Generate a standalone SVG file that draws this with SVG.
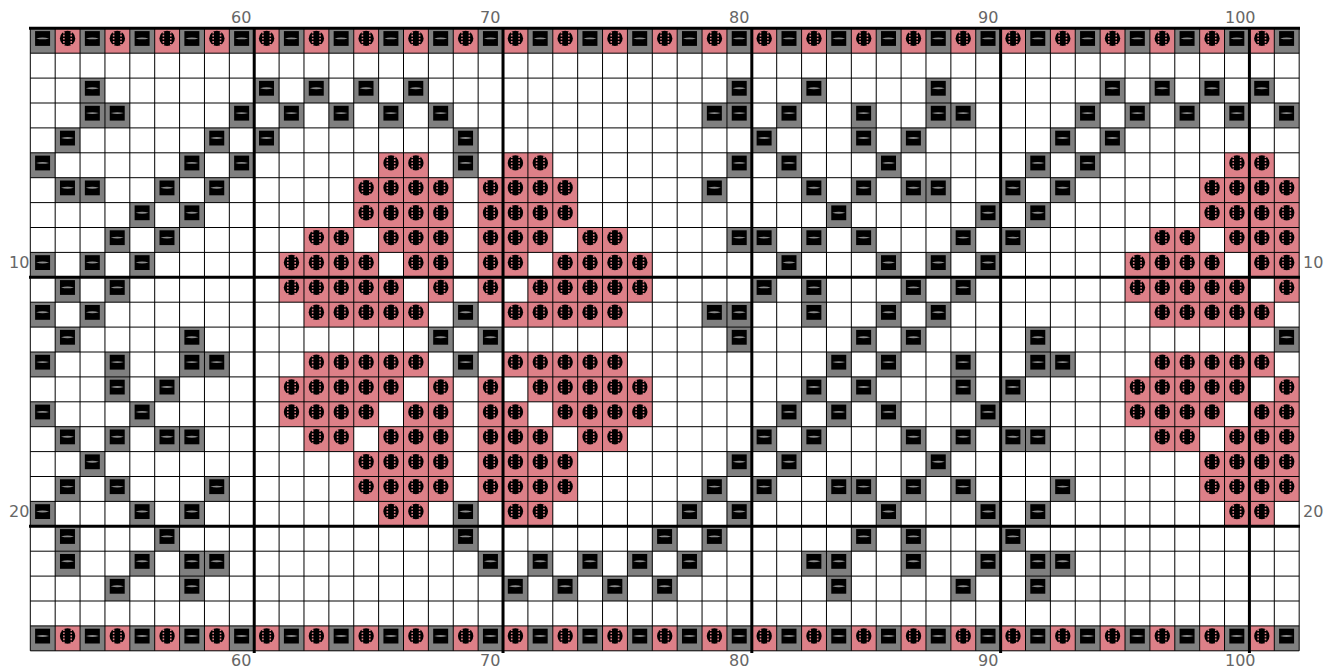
<svg xmlns="http://www.w3.org/2000/svg" width="1324" height="670" viewBox="0 0 1324 670">
<style>
text{font-family:"DejaVu Sans",sans-serif;font-size:16px;fill:#666}
.thin{fill:none;stroke:#000;stroke-width:1}
.thick{fill:none;stroke:#000;stroke-width:3}
</style>
<defs>
<g id="d"><rect width="24.9" height="24.9" fill="#808080"/><rect x="4.8" y="2.8" width="15" height="14.8" fill="#000"/><path d="M5.8 10.1Q12.3 8.2 18.8 10.1Q12.3 12 5.8 10.1Z" fill="#8a8a8a"/></g>
<g id="p"><rect width="24.9" height="24.9" fill="#dd8088"/><circle cx="12.4" cy="10.1" r="7.7" fill="#000"/><path d="M8.7 3.4V17M16.1 3.4V17" fill="none" stroke="#dd8088" stroke-width="1.6" stroke-dasharray="1.7 1.4"/></g>
<g id="edge"><use href="#d" x="30.3"/><use href="#p" x="55.2"/><use href="#d" x="80.1"/><use href="#p" x="105"/><use href="#d" x="129.9"/><use href="#p" x="154.8"/><use href="#d" x="179.7"/><use href="#p" x="204.6"/><use href="#d" x="229.5"/><use href="#p" x="254.4"/><use href="#d" x="279.3"/><use href="#p" x="304.2"/><use href="#d" x="329.1"/><use href="#p" x="354"/><use href="#d" x="378.9"/><use href="#p" x="403.8"/><use href="#d" x="428.7"/><use href="#p" x="453.6"/><use href="#d" x="478.5"/><use href="#p" x="503.4"/><use href="#d" x="528.3"/><use href="#p" x="553.2"/><use href="#d" x="578.1"/><use href="#p" x="603"/><use href="#d" x="627.9"/><use href="#p" x="652.8"/><use href="#d" x="677.7"/><use href="#p" x="702.6"/><use href="#d" x="727.5"/><use href="#p" x="752.4"/><use href="#d" x="777.3"/><use href="#p" x="802.2"/><use href="#d" x="827.1"/><use href="#p" x="852"/><use href="#d" x="876.9"/><use href="#p" x="901.8"/><use href="#d" x="926.7"/><use href="#p" x="951.6"/><use href="#d" x="976.5"/><use href="#p" x="1001.4"/><use href="#d" x="1026.3"/><use href="#p" x="1051.2"/><use href="#d" x="1076.1"/><use href="#p" x="1101"/><use href="#d" x="1125.9"/><use href="#p" x="1150.8"/><use href="#d" x="1175.7"/><use href="#p" x="1200.6"/><use href="#d" x="1225.5"/><use href="#p" x="1250.4"/><use href="#d" x="1275.3"/></g>
<g id="heartA"><use href="#p" x="279.3"/><use href="#p" x="304.2"/><use href="#p" x="329.1"/><use href="#p" x="354"/></g>
</defs>
<rect width="1324" height="670" fill="#fff"/>
<g transform="translate(30.3 0) scale(.9992 1) translate(-30.3 0)">
<g id="cells">
<use href="#edge" y="28.3"/>
<use href="#edge" y="625.9"/>
<g id="r2" transform="translate(0 78.1)"><use href="#d" x="80.1"/><use href="#d" x="254.4"/><use href="#d" x="304.2"/><use href="#d" x="354"/><use href="#d" x="403.8"/><use href="#d" x="727.5"/><use href="#d" x="802.2"/><use href="#d" x="926.7"/><use href="#d" x="1101"/><use href="#d" x="1150.8"/><use href="#d" x="1200.6"/><use href="#d" x="1250.4"/></g>
<g id="r3" transform="translate(0 103)"><use href="#d" x="80.1"/><use href="#d" x="105"/><use href="#d" x="229.5"/><use href="#d" x="279.3"/><use href="#d" x="329.1"/><use href="#d" x="378.9"/><use href="#d" x="428.7"/><use href="#d" x="702.6"/><use href="#d" x="727.5"/><use href="#d" x="777.3"/><use href="#d" x="852"/><use href="#d" x="926.7"/><use href="#d" x="951.6"/><use href="#d" x="1076.1"/><use href="#d" x="1125.9"/><use href="#d" x="1175.7"/><use href="#d" x="1225.5"/><use href="#d" x="1275.3"/></g>
<g id="r4" transform="translate(0 127.9)"><use href="#d" x="55.2"/><use href="#d" x="204.6"/><use href="#d" x="254.4"/><use href="#d" x="453.6"/><use href="#d" x="752.4"/><use href="#d" x="852"/><use href="#d" x="901.8"/><use href="#d" x="1051.2"/><use href="#d" x="1101"/></g>
<g id="r5" transform="translate(0 152.8)"><use href="#d" x="30.3"/><use href="#d" x="179.7"/><use href="#d" x="229.5"/><use href="#d" x="453.6"/><use href="#d" x="727.5"/><use href="#d" x="777.3"/><use href="#d" x="876.9"/><use href="#d" x="1026.3"/><use href="#d" x="1076.1"/><use href="#p" x="378.9"/><use href="#p" x="403.8"/><use href="#p" x="503.4"/><use href="#p" x="528.3"/><use href="#p" x="1225.5"/><use href="#p" x="1250.4"/></g>
<g id="r6" transform="translate(0 177.7)"><use href="#d" x="55.2"/><use href="#d" x="80.1"/><use href="#d" x="154.8"/><use href="#d" x="204.6"/><use href="#d" x="702.6"/><use href="#d" x="802.2"/><use href="#d" x="852"/><use href="#d" x="901.8"/><use href="#d" x="926.7"/><use href="#d" x="1001.4"/><use href="#d" x="1051.2"/><use href="#p" x="354"/><use href="#p" x="378.9"/><use href="#p" x="403.8"/><use href="#p" x="428.7"/><use href="#p" x="478.5"/><use href="#p" x="503.4"/><use href="#p" x="528.3"/><use href="#p" x="553.2"/><use href="#p" x="1200.6"/><use href="#p" x="1225.5"/><use href="#p" x="1250.4"/><use href="#p" x="1275.3"/></g>
<g id="r7" transform="translate(0 202.6)"><use href="#d" x="129.9"/><use href="#d" x="179.7"/><use href="#d" x="827.1"/><use href="#d" x="976.5"/><use href="#d" x="1026.3"/><use href="#p" x="354"/><use href="#p" x="378.9"/><use href="#p" x="403.8"/><use href="#p" x="428.7"/><use href="#p" x="478.5"/><use href="#p" x="503.4"/><use href="#p" x="528.3"/><use href="#p" x="553.2"/><use href="#p" x="1200.6"/><use href="#p" x="1225.5"/><use href="#p" x="1250.4"/><use href="#p" x="1275.3"/></g>
<g id="r8" transform="translate(0 227.5)"><use href="#d" x="105"/><use href="#d" x="154.8"/><use href="#d" x="727.5"/><use href="#d" x="752.4"/><use href="#d" x="802.2"/><use href="#d" x="852"/><use href="#d" x="951.6"/><use href="#d" x="1001.4"/><use href="#p" x="304.2"/><use href="#p" x="329.1"/><use href="#p" x="378.9"/><use href="#p" x="403.8"/><use href="#p" x="428.7"/><use href="#p" x="478.5"/><use href="#p" x="503.4"/><use href="#p" x="528.3"/><use href="#p" x="578.1"/><use href="#p" x="603"/><use href="#p" x="1150.8"/><use href="#p" x="1175.7"/><use href="#p" x="1225.5"/><use href="#p" x="1250.4"/><use href="#p" x="1275.3"/></g>
<g id="r9" transform="translate(0 252.4)"><use href="#d" x="30.3"/><use href="#d" x="80.1"/><use href="#d" x="129.9"/><use href="#d" x="777.3"/><use href="#d" x="876.9"/><use href="#d" x="926.7"/><use href="#d" x="976.5"/><use href="#p" x="279.3"/><use href="#p" x="304.2"/><use href="#p" x="329.1"/><use href="#p" x="354"/><use href="#p" x="403.8"/><use href="#p" x="428.7"/><use href="#p" x="478.5"/><use href="#p" x="503.4"/><use href="#p" x="553.2"/><use href="#p" x="578.1"/><use href="#p" x="603"/><use href="#p" x="627.9"/><use href="#p" x="1125.9"/><use href="#p" x="1150.8"/><use href="#p" x="1175.7"/><use href="#p" x="1200.6"/><use href="#p" x="1250.4"/><use href="#p" x="1275.3"/></g>
<g id="r10" transform="translate(0 277.3)"><use href="#d" x="55.2"/><use href="#d" x="105"/><use href="#d" x="752.4"/><use href="#d" x="802.2"/><use href="#d" x="901.8"/><use href="#d" x="951.6"/><use href="#heartA"/><use href="#p" x="378.9"/><use href="#p" x="428.7"/><use href="#p" x="478.5"/><use href="#p" x="528.3"/><use href="#p" x="553.2"/><use href="#p" x="578.1"/><use href="#p" x="603"/><use href="#p" x="627.9"/><use href="#p" x="1125.9"/><use href="#p" x="1150.8"/><use href="#p" x="1175.7"/><use href="#p" x="1200.6"/><use href="#p" x="1225.5"/><use href="#p" x="1275.3"/></g>
<g id="r11" transform="translate(0 302.2)"><use href="#d" x="30.3"/><use href="#d" x="80.1"/><use href="#d" x="453.6"/><use href="#d" x="702.6"/><use href="#d" x="727.5"/><use href="#d" x="802.2"/><use href="#d" x="876.9"/><use href="#d" x="926.7"/><use href="#p" x="304.2"/><use href="#p" x="329.1"/><use href="#p" x="354"/><use href="#p" x="378.9"/><use href="#p" x="403.8"/><use href="#p" x="503.4"/><use href="#p" x="528.3"/><use href="#p" x="553.2"/><use href="#p" x="578.1"/><use href="#p" x="603"/><use href="#p" x="1150.8"/><use href="#p" x="1175.7"/><use href="#p" x="1200.6"/><use href="#p" x="1225.5"/><use href="#p" x="1250.4"/></g>
<g id="r12" transform="translate(0 327.1)"><use href="#d" x="55.2"/><use href="#d" x="179.7"/><use href="#d" x="428.7"/><use href="#d" x="478.5"/><use href="#d" x="727.5"/><use href="#d" x="852"/><use href="#d" x="901.8"/><use href="#d" x="1026.3"/><use href="#d" x="1275.3"/></g>
<g id="r13" transform="translate(0 352)"><use href="#d" x="30.3"/><use href="#d" x="105"/><use href="#d" x="179.7"/><use href="#d" x="204.6"/><use href="#d" x="453.6"/><use href="#d" x="827.1"/><use href="#d" x="876.9"/><use href="#d" x="951.6"/><use href="#d" x="1026.3"/><use href="#d" x="1051.2"/><use href="#p" x="304.2"/><use href="#p" x="329.1"/><use href="#p" x="354"/><use href="#p" x="378.9"/><use href="#p" x="403.8"/><use href="#p" x="503.4"/><use href="#p" x="528.3"/><use href="#p" x="553.2"/><use href="#p" x="578.1"/><use href="#p" x="603"/><use href="#p" x="1150.8"/><use href="#p" x="1175.7"/><use href="#p" x="1200.6"/><use href="#p" x="1225.5"/><use href="#p" x="1250.4"/></g>
<g id="r14" transform="translate(0 376.9)"><use href="#d" x="105"/><use href="#d" x="154.8"/><use href="#d" x="802.2"/><use href="#d" x="852"/><use href="#d" x="951.6"/><use href="#d" x="1001.4"/><use href="#heartA"/><use href="#p" x="378.9"/><use href="#p" x="428.7"/><use href="#p" x="478.5"/><use href="#p" x="528.3"/><use href="#p" x="553.2"/><use href="#p" x="578.1"/><use href="#p" x="603"/><use href="#p" x="627.9"/><use href="#p" x="1125.9"/><use href="#p" x="1150.8"/><use href="#p" x="1175.7"/><use href="#p" x="1200.6"/><use href="#p" x="1225.5"/><use href="#p" x="1275.3"/></g>
<g id="r15" transform="translate(0 401.8)"><use href="#d" x="30.3"/><use href="#d" x="129.9"/><use href="#d" x="777.3"/><use href="#d" x="827.1"/><use href="#d" x="876.9"/><use href="#d" x="976.5"/><use href="#heartA"/><use href="#p" x="403.8"/><use href="#p" x="428.7"/><use href="#p" x="478.5"/><use href="#p" x="503.4"/><use href="#p" x="553.2"/><use href="#p" x="578.1"/><use href="#p" x="603"/><use href="#p" x="627.9"/><use href="#p" x="1125.9"/><use href="#p" x="1150.8"/><use href="#p" x="1175.7"/><use href="#p" x="1200.6"/><use href="#p" x="1250.4"/><use href="#p" x="1275.3"/></g>
<g id="r16" transform="translate(0 426.7)"><use href="#d" x="55.2"/><use href="#d" x="105"/><use href="#d" x="154.8"/><use href="#d" x="179.7"/><use href="#d" x="752.4"/><use href="#d" x="802.2"/><use href="#d" x="901.8"/><use href="#d" x="951.6"/><use href="#d" x="1001.4"/><use href="#d" x="1026.3"/><use href="#p" x="304.2"/><use href="#p" x="329.1"/><use href="#p" x="378.9"/><use href="#p" x="403.8"/><use href="#p" x="428.7"/><use href="#p" x="478.5"/><use href="#p" x="503.4"/><use href="#p" x="528.3"/><use href="#p" x="578.1"/><use href="#p" x="603"/><use href="#p" x="1150.8"/><use href="#p" x="1175.7"/><use href="#p" x="1225.5"/><use href="#p" x="1250.4"/><use href="#p" x="1275.3"/></g>
<g id="r17" transform="translate(0 451.6)"><use href="#d" x="80.1"/><use href="#d" x="727.5"/><use href="#d" x="777.3"/><use href="#d" x="926.7"/><use href="#p" x="354"/><use href="#p" x="378.9"/><use href="#p" x="403.8"/><use href="#p" x="428.7"/><use href="#p" x="478.5"/><use href="#p" x="503.4"/><use href="#p" x="528.3"/><use href="#p" x="553.2"/><use href="#p" x="1200.6"/><use href="#p" x="1225.5"/><use href="#p" x="1250.4"/><use href="#p" x="1275.3"/></g>
<g id="r18" transform="translate(0 476.5)"><use href="#d" x="55.2"/><use href="#d" x="105"/><use href="#d" x="204.6"/><use href="#d" x="702.6"/><use href="#d" x="752.4"/><use href="#d" x="827.1"/><use href="#d" x="852"/><use href="#d" x="901.8"/><use href="#d" x="951.6"/><use href="#d" x="1051.2"/><use href="#p" x="354"/><use href="#p" x="378.9"/><use href="#p" x="403.8"/><use href="#p" x="428.7"/><use href="#p" x="478.5"/><use href="#p" x="503.4"/><use href="#p" x="528.3"/><use href="#p" x="553.2"/><use href="#p" x="1200.6"/><use href="#p" x="1225.5"/><use href="#p" x="1250.4"/><use href="#p" x="1275.3"/></g>
<g id="r19" transform="translate(0 501.4)"><use href="#d" x="30.3"/><use href="#d" x="129.9"/><use href="#d" x="179.7"/><use href="#d" x="453.6"/><use href="#d" x="677.7"/><use href="#d" x="727.5"/><use href="#d" x="876.9"/><use href="#d" x="976.5"/><use href="#d" x="1026.3"/><use href="#p" x="378.9"/><use href="#p" x="403.8"/><use href="#p" x="503.4"/><use href="#p" x="528.3"/><use href="#p" x="1225.5"/><use href="#p" x="1250.4"/></g>
<g id="r20" transform="translate(0 526.3)"><use href="#d" x="55.2"/><use href="#d" x="154.8"/><use href="#d" x="453.6"/><use href="#d" x="652.8"/><use href="#d" x="702.6"/><use href="#d" x="852"/><use href="#d" x="901.8"/><use href="#d" x="1001.4"/></g>
<g id="r21" transform="translate(0 551.2)"><use href="#d" x="55.2"/><use href="#d" x="129.9"/><use href="#d" x="179.7"/><use href="#d" x="204.6"/><use href="#d" x="478.5"/><use href="#d" x="528.3"/><use href="#d" x="578.1"/><use href="#d" x="627.9"/><use href="#d" x="677.7"/><use href="#d" x="802.2"/><use href="#d" x="827.1"/><use href="#d" x="901.8"/><use href="#d" x="976.5"/><use href="#d" x="1026.3"/><use href="#d" x="1051.2"/></g>
<g id="r22" transform="translate(0 576.1)"><use href="#d" x="105"/><use href="#d" x="179.7"/><use href="#d" x="503.4"/><use href="#d" x="553.2"/><use href="#d" x="603"/><use href="#d" x="652.8"/><use href="#d" x="827.1"/><use href="#d" x="951.6"/><use href="#d" x="1026.3"/></g>
</g>
<g id="grid">
<path class="thin" d="M30.3 28.3V650.8M55.2 28.3V650.8M80.1 28.3V650.8M105 28.3V650.8M129.9 28.3V650.8M154.8 28.3V650.8M179.7 28.3V650.8M204.6 28.3V650.8M229.5 28.3V650.8M279.3 28.3V650.8M304.2 28.3V650.8M329.1 28.3V650.8M354 28.3V650.8M378.9 28.3V650.8M403.8 28.3V650.8M428.7 28.3V650.8M453.6 28.3V650.8M478.5 28.3V650.8M528.3 28.3V650.8M553.2 28.3V650.8M578.1 28.3V650.8M603 28.3V650.8M627.9 28.3V650.8M652.8 28.3V650.8M677.7 28.3V650.8M702.6 28.3V650.8M727.5 28.3V650.8M777.3 28.3V650.8M802.2 28.3V650.8M827.1 28.3V650.8M852 28.3V650.8M876.9 28.3V650.8M901.8 28.3V650.8M926.7 28.3V650.8M951.6 28.3V650.8M976.5 28.3V650.8M1026.3 28.3V650.8M1051.2 28.3V650.8M1076.1 28.3V650.8M1101 28.3V650.8M1125.9 28.3V650.8M1150.8 28.3V650.8M1175.7 28.3V650.8M1200.6 28.3V650.8M1225.5 28.3V650.8M1275.3 28.3V650.8M1300.2 28.3V650.8"/>
<path class="thin" d="M30.3 53.2H1300.2M30.3 78.1H1300.2M30.3 103H1300.2M30.3 127.9H1300.2M30.3 152.8H1300.2M30.3 177.7H1300.2M30.3 202.6H1300.2M30.3 227.5H1300.2M30.3 252.4H1300.2M30.3 302.2H1300.2M30.3 327.1H1300.2M30.3 352H1300.2M30.3 376.9H1300.2M30.3 401.8H1300.2M30.3 426.7H1300.2M30.3 451.6H1300.2M30.3 476.5H1300.2M30.3 501.4H1300.2M30.3 551.2H1300.2M30.3 576.1H1300.2M30.3 601H1300.2M30.3 625.9H1300.2M30.3 650.8H1300.2"/>
<path class="thick" d="M254.4 27V653M503.4 27V653M752.4 27V653M1001.4 27V653M1250.4 27V653M29 28.3H1301M29 277.3H1301M29 526.3H1301"/>
</g>
</g>
<g id="labels">
<text x="231" y="23">60</text><text x="480" y="23">70</text><text x="729" y="23">80</text><text x="978" y="23">90</text><text x="1225" y="23">100</text>
<text x="231" y="666">60</text><text x="480" y="666">70</text><text x="729" y="666">80</text><text x="978" y="666">90</text><text x="1225" y="666">100</text>
<text x="9" y="268">10</text><text x="9" y="517">20</text><text x="1303" y="268">10</text><text x="1303" y="517">20</text>
</g>
</svg>
